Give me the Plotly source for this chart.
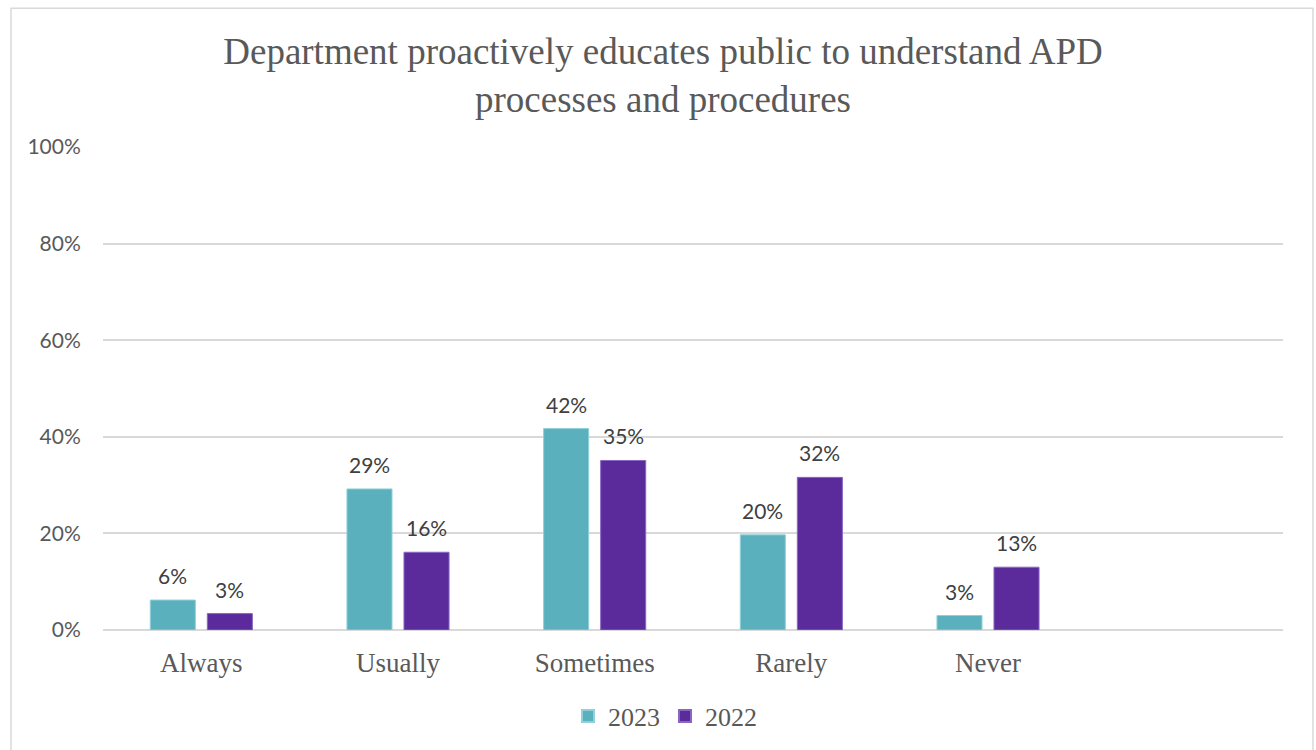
import plotly.graph_objects as go

# Survey responses by year (share of respondents)
categories = ["Always", "Usually", "Sometimes", "Rarely", "Never"]
values_2023 = [0.062, 0.292, 0.417, 0.197, 0.030]
values_2022 = [0.034, 0.161, 0.351, 0.316, 0.130]
y_ticks = [0, 0.2, 0.4, 0.6, 0.8, 1.0]
y_tick_labels = ["0%", "20%", "40%", "60%", "80%", "100%"]

TEAL = "#5BB0BD"
PURPLE = "#5B2A9B"
SANS = "Lato, Carlito, 'Open Sans', sans-serif"
SERIF = "'Liberation Serif', 'Times New Roman', serif"

W, H = 1316, 750
ML, MR, MT, MB = 103, 33, 147, 119
PW, PH = W - ML - MR, H - MT - MB
BAR_SHIFT = 28.5  # half of one bar slot within a group, in px

fig = go.Figure()
series = [("2023", values_2023, TEAL, "#8fd0da", -BAR_SHIFT),
          ("2022", values_2022, PURPLE, "#8a66c4", BAR_SHIFT)]
for name, vals, color, edge, shift in series:
    fig.add_trace(go.Bar(
        name=name, x=categories, y=vals,
        marker=dict(color=color, line=dict(color=edge, width=1)),
    ))
    # value labels sitting a little above each bar
    for cat, v in zip(categories, vals):
        fig.add_annotation(
            x=cat, y=v, xref="x", yref="y", text=f"{v:.0%}",
            showarrow=False, xanchor="center", yanchor="bottom",
            xshift=shift, yshift=10,
            font=dict(family=SANS, size=21, color="#404040"),
        )

# Chart frame, expressed in plot-area (paper) fractions
def px_x(px):
    return (px - ML) / PW

def px_y(py):
    return (H - MB - py) / PH

fig.add_shape(type="rect", xref="paper", yref="paper",
              x0=px_x(11), x1=px_x(1313), y0=px_y(755), y1=px_y(8),
              line=dict(color="#d9d9d9", width=1.5), fillcolor="rgba(0,0,0,0)",
              layer="below")

fig.update_layout(
    width=W, height=H,
    margin=dict(l=ML, r=MR, t=MT, b=MB),
    paper_bgcolor="white", plot_bgcolor="white",
    barmode="group", bargap=0.42, bargroupgap=0.21,
    title=dict(
        text="Department proactively educates public to understand APD<br>processes and procedures",
        x=663 / W, xanchor="center", xref="container", y=1 - 64 / H, yanchor="middle",
        font=dict(family=SERIF, size=37, color="#595959"),
    ),
    xaxis=dict(
        type="category", categoryorder="array",
        categoryarray=categories + [" "],
        range=[-0.5, 5.5],
        showgrid=False, showline=False, zeroline=False,
        ticks="outside", ticklen=9, tickcolor="rgba(0,0,0,0)",
        tickfont=dict(family=SERIF, size=27, color="#595959"),
    ),
    yaxis=dict(
        range=[0, 1.0], tickvals=y_ticks, ticktext=y_tick_labels,
        showgrid=True, gridcolor="#d9d9d9", gridwidth=1.5,
        zeroline=True, zerolinecolor="#d9d9d9", zerolinewidth=1.5,
        showline=False,
        ticks="outside", ticklen=17, tickcolor="rgba(0,0,0,0)",
        tickfont=dict(family=SANS, size=21, color="#595959"),
    ),
    legend=dict(
        orientation="h", x=px_x(665), xanchor="center",
        y=px_y(716), yanchor="middle",
        font=dict(family=SERIF, size=26, color="#595959"),
        itemwidth=30, itemsizing="constant", traceorder="normal",
    ),
    showlegend=True,
)

fig.write_html("out.html")
